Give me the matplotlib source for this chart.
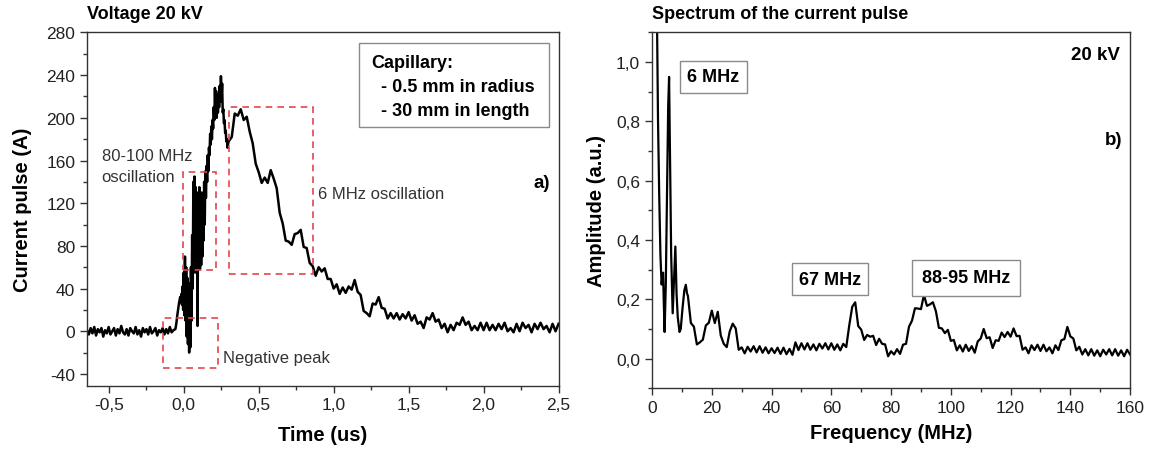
import numpy as np
import matplotlib
matplotlib.use('Agg')
import matplotlib.pyplot as plt
from matplotlib.patches import Rectangle
from matplotlib.ticker import MultipleLocator, FuncFormatter

plt.rcParams.update({'font.family': ['Liberation Sans', 'DejaVu Sans'],
                     'axes.unicode_minus': False})

# --- (a) current pulse ---
# baseline before the discharge, sampled every 0.012 us from -0.645 us
base_t0, base_dt = -0.645, 0.012
base_current = [1, -3, 3, -2, 4, -4, 2, -1, 3, -5, 1, -2, 4, -3, 0, 3, -4, 2, -2, 5,
                -1, -3, 2, -4, 3, 0, -2, 4, -3, 1, -5, 3, -1, 2, -3, 4, -2, 0, 3, -4,
                1, -1, 3, -3, 2, -2, 4, -1, 1]

# breakdown burst (80-100 MHz ringing), every 0.004 us from -0.056 us
burst_t0, burst_dt = -0.056, 0.004
burst_current = [2, 5, 9, 14, 18, 22, 26, 29, 32, 28, 35, 25, 42, 20, 55, 15, 70, 10, 60, -5,
                 50, -12, 40, -20, 45, -15, 60, 10, 90, 40, 140, 60, 145, 55, 135, 65, 130, 5,
                 120, 60, 135, 58, 125, 62, 130, 70, 120, 85, 140, 100, 150, 125, 155, 140,
                 165, 150, 172, 165, 185, 175, 192, 180, 198, 190, 210, 198, 228, 205, 225,
                 200, 215, 205, 222, 210, 230, 215, 239, 220, 232, 205, 208, 195, 198, 186,
                 188, 178, 180, 172, 176]

# decay with the 6 MHz oscillation, every 0.02 us from 0.30 us
tail_t0, tail_dt = 0.30, 0.02
tail_current = [178, 182, 204, 202, 208, 198, 201, 187, 176, 157, 149, 139, 144, 139, 151,
                143, 134, 111, 101, 85, 84, 81, 91, 92, 95, 79, 78, 64, 61, 52, 60, 56, 59,
                49, 49, 40, 44, 35, 41, 36, 42, 39, 48, 37, 34, 19, 17, 14, 26, 25, 32, 22,
                21, 12, 17, 12, 17, 11, 16, 12, 18, 10, 15, 7, 9, 3, 13, 11, 17, 9, 11, 3,
                7, -1, 6, 1, 8, 6, 13, 6, 9, 1, 5, 1, 8, 1, 8, 1, 6, 1, 7, 2, 8, 0, 3, -1,
                7, 0, 8, 3, 6, -1, 7, 2, 8, 2, 5, -1, 7, 0, 7]

# --- (b) spectrum ---
# low-frequency part, irregular points
low_freq = [1.6, 2.0, 2.4, 2.8, 3.2, 3.5, 3.7, 3.9, 4.2, 4.6, 5.0, 5.4, 5.7, 6.0, 6.4,
            6.9, 7.3, 7.8, 8.2, 8.6, 9.2, 9.6, 10.2, 10.8, 11.3, 11.7]
low_amp = [1.20, 0.80, 0.55, 0.35, 0.25, 0.28, 0.29, 0.20, 0.09, 0.25, 0.55, 0.85, 0.95,
           0.70, 0.35, 0.153, 0.25, 0.378, 0.22, 0.14, 0.09, 0.10, 0.17, 0.23, 0.249, 0.22]

# 12 .. 160 MHz, one point per MHz
high_f0, high_df = 12, 1
high_amp = [0.212, 0.120, 0.108, 0.048, 0.055, 0.064, 0.112, 0.121, 0.162, 0.120, 0.158,
            0.078, 0.050, 0.039, 0.092, 0.118, 0.102, 0.030, 0.038, 0.018, 0.040, 0.024,
            0.042, 0.021, 0.042, 0.020, 0.038, 0.018, 0.035, 0.019, 0.037, 0.016, 0.037,
            0.015, 0.033, 0.013, 0.055, 0.029, 0.052, 0.031, 0.052, 0.030, 0.048, 0.028,
            0.050, 0.034, 0.052, 0.031, 0.052, 0.030, 0.048, 0.028, 0.050, 0.039, 0.112,
            0.175, 0.190, 0.110, 0.098, 0.063, 0.080, 0.074, 0.077, 0.046, 0.067, 0.050,
            0.048, 0.008, 0.025, 0.014, 0.032, 0.016, 0.047, 0.050, 0.108, 0.128, 0.170,
            0.169, 0.167, 0.215, 0.178, 0.183, 0.190, 0.160, 0.104, 0.102, 0.086, 0.097,
            0.060, 0.063, 0.028, 0.045, 0.024, 0.047, 0.026, 0.042, 0.020, 0.058, 0.068,
            0.100, 0.069, 0.072, 0.036, 0.062, 0.060, 0.088, 0.073, 0.090, 0.074, 0.102,
            0.076, 0.077, 0.030, 0.038, 0.018, 0.045, 0.029, 0.047, 0.026, 0.047, 0.025,
            0.038, 0.018, 0.045, 0.029, 0.062, 0.066, 0.107, 0.075, 0.068, 0.028, 0.040,
            0.014, 0.032, 0.011, 0.032, 0.010, 0.028, 0.008, 0.030, 0.014, 0.032, 0.011,
            0.032, 0.010, 0.028, 0.008, 0.030, 0.014]

TEXT = '#222222'
SPINE = '#333333'
RED = '#e0474c'
BOXEDGE = '#8a8a8a'


def comma(fmt):
    # Origin-style decimal comma
    return FuncFormatter(lambda v, _: fmt.format(v).replace('.', ','))


def style_axis(ax):
    for s in ax.spines.values():
        s.set_color(SPINE)
        s.set_linewidth(1.0)
    ax.tick_params(which='both', direction='out', top=False, right=False,
                   colors=SPINE, labelcolor=TEXT, labelsize=12.5)
    ax.tick_params(which='major', length=5, width=1)
    ax.tick_params(which='minor', length=3, width=1)


fig = plt.figure(figsize=(11.5, 4.52), dpi=100)

# ---------------- panel a ----------------
ax = fig.add_axes([0.0757, 0.1445, 0.41, 0.7815])
t = np.concatenate([base_t0 + base_dt * np.arange(len(base_current)),
                    burst_t0 + burst_dt * np.arange(len(burst_current)),
                    tail_t0 + tail_dt * np.arange(len(tail_current))])
cur = np.concatenate([base_current, burst_current, tail_current])
ax.plot(t, cur, color='black', lw=1.8)

ax.set_xlim(-0.645, 2.5)
ax.set_ylim(-51, 280)
ax.xaxis.set_major_locator(MultipleLocator(0.5))
ax.xaxis.set_minor_locator(MultipleLocator(0.25))
ax.yaxis.set_major_locator(MultipleLocator(40))
ax.yaxis.set_minor_locator(MultipleLocator(20))
ax.xaxis.set_major_formatter(comma('{:.1f}'))
style_axis(ax)
ax.set_xlabel('Time (us)', fontsize=14.5, fontweight='bold')
ax.set_ylabel('Current pulse (A)', fontsize=14.5, fontweight='bold')
ax.xaxis.set_label_coords(0.5, -0.112)
ax.yaxis.set_label_coords(-0.117, 0.5)

for (x0, y0, x1, y1) in [(-0.007, 57.5, 0.215, 149), (0.30, 53.4, 0.859, 210.6),
                         (-0.139, -34, 0.228, 12)]:
    ax.add_patch(Rectangle((x0, y0), x1 - x0, y1 - y0, fill=False, ec=RED,
                           lw=1.2, ls=(0, (4, 3)), zorder=3))

ax.text(-0.547, 164.5, '80-100 MHz', fontsize=12, color='#333333', va='center')
ax.text(-0.547, 145, 'oscillation', fontsize=12, color='#333333', va='center')
ax.text(0.896, 129, '6 MHz oscillation', fontsize=12, color='#333333', va='center')
ax.text(0.265, -25, 'Negative peak', fontsize=12, color='#333333', va='center')
ax.text(2.445, 139, 'a)', fontsize=13.5, fontweight='bold', ha='right', va='center')

ax.add_patch(Rectangle((1.17, 191), 2.437 - 1.17, 269.7 - 191, fill=False,
                       ec=BOXEDGE, lw=1.0, zorder=3))
ax.text(1.252, 252, 'Capillary:', fontsize=13, fontweight='bold', va='center')
ax.text(1.318, 229, '- 0.5 mm in radius', fontsize=13, fontweight='bold', va='center')
ax.text(1.318, 206.6, '- 30 mm in length', fontsize=13, fontweight='bold', va='center')

fig.text(0.0757, 0.967, 'Voltage 20 kV', fontsize=13, fontweight='bold', va='center')

# ---------------- panel b ----------------
bx = fig.add_axes([0.567, 0.1387, 0.4157, 0.7873])
freq = np.concatenate([low_freq, high_f0 + high_df * np.arange(len(high_amp))])
amp = np.concatenate([low_amp, high_amp])
bx.plot(freq, amp, color='black', lw=1.6)

bx.set_xlim(0, 160)
bx.set_ylim(-0.1, 1.1)
bx.xaxis.set_major_locator(MultipleLocator(20))
bx.xaxis.set_minor_locator(MultipleLocator(10))
bx.yaxis.set_major_locator(MultipleLocator(0.2))
bx.yaxis.set_minor_locator(MultipleLocator(0.1))
bx.yaxis.set_major_formatter(comma('{:.1f}'))
style_axis(bx)
bx.set_xlabel('Frequency (MHz)', fontsize=14.5, fontweight='bold')
bx.set_ylabel('Amplitude (a.u.)', fontsize=14.5, fontweight='bold')
bx.xaxis.set_label_coords(0.5, -0.097)
bx.yaxis.set_label_coords(-0.097, 0.5)

box = dict(boxstyle='square,pad=0.4', fc='white', ec=BOXEDGE, lw=1.0)
bx.text(20.5, 0.95, '6 MHz', fontsize=13, fontweight='bold', ha='center', va='center', bbox=box)
bx.text(59.6, 0.268, '67 MHz', fontsize=13, fontweight='bold', ha='center', va='center', bbox=box)
box2 = dict(boxstyle='square,pad=0.55', fc='white', ec=BOXEDGE, lw=1.0)
bx.text(105.2, 0.272, '88-95 MHz', fontsize=13, fontweight='bold', ha='center', va='center', bbox=box2)
bx.text(156.6, 1.025, '20 kV', fontsize=13.5, fontweight='bold', ha='right', va='center')
bx.text(157.3, 0.738, 'b)', fontsize=13.5, fontweight='bold', ha='right', va='center')

fig.text(0.567, 0.969, 'Spectrum of the current pulse', fontsize=13, fontweight='bold', va='center')

fig.savefig('out.png', dpi=100)
